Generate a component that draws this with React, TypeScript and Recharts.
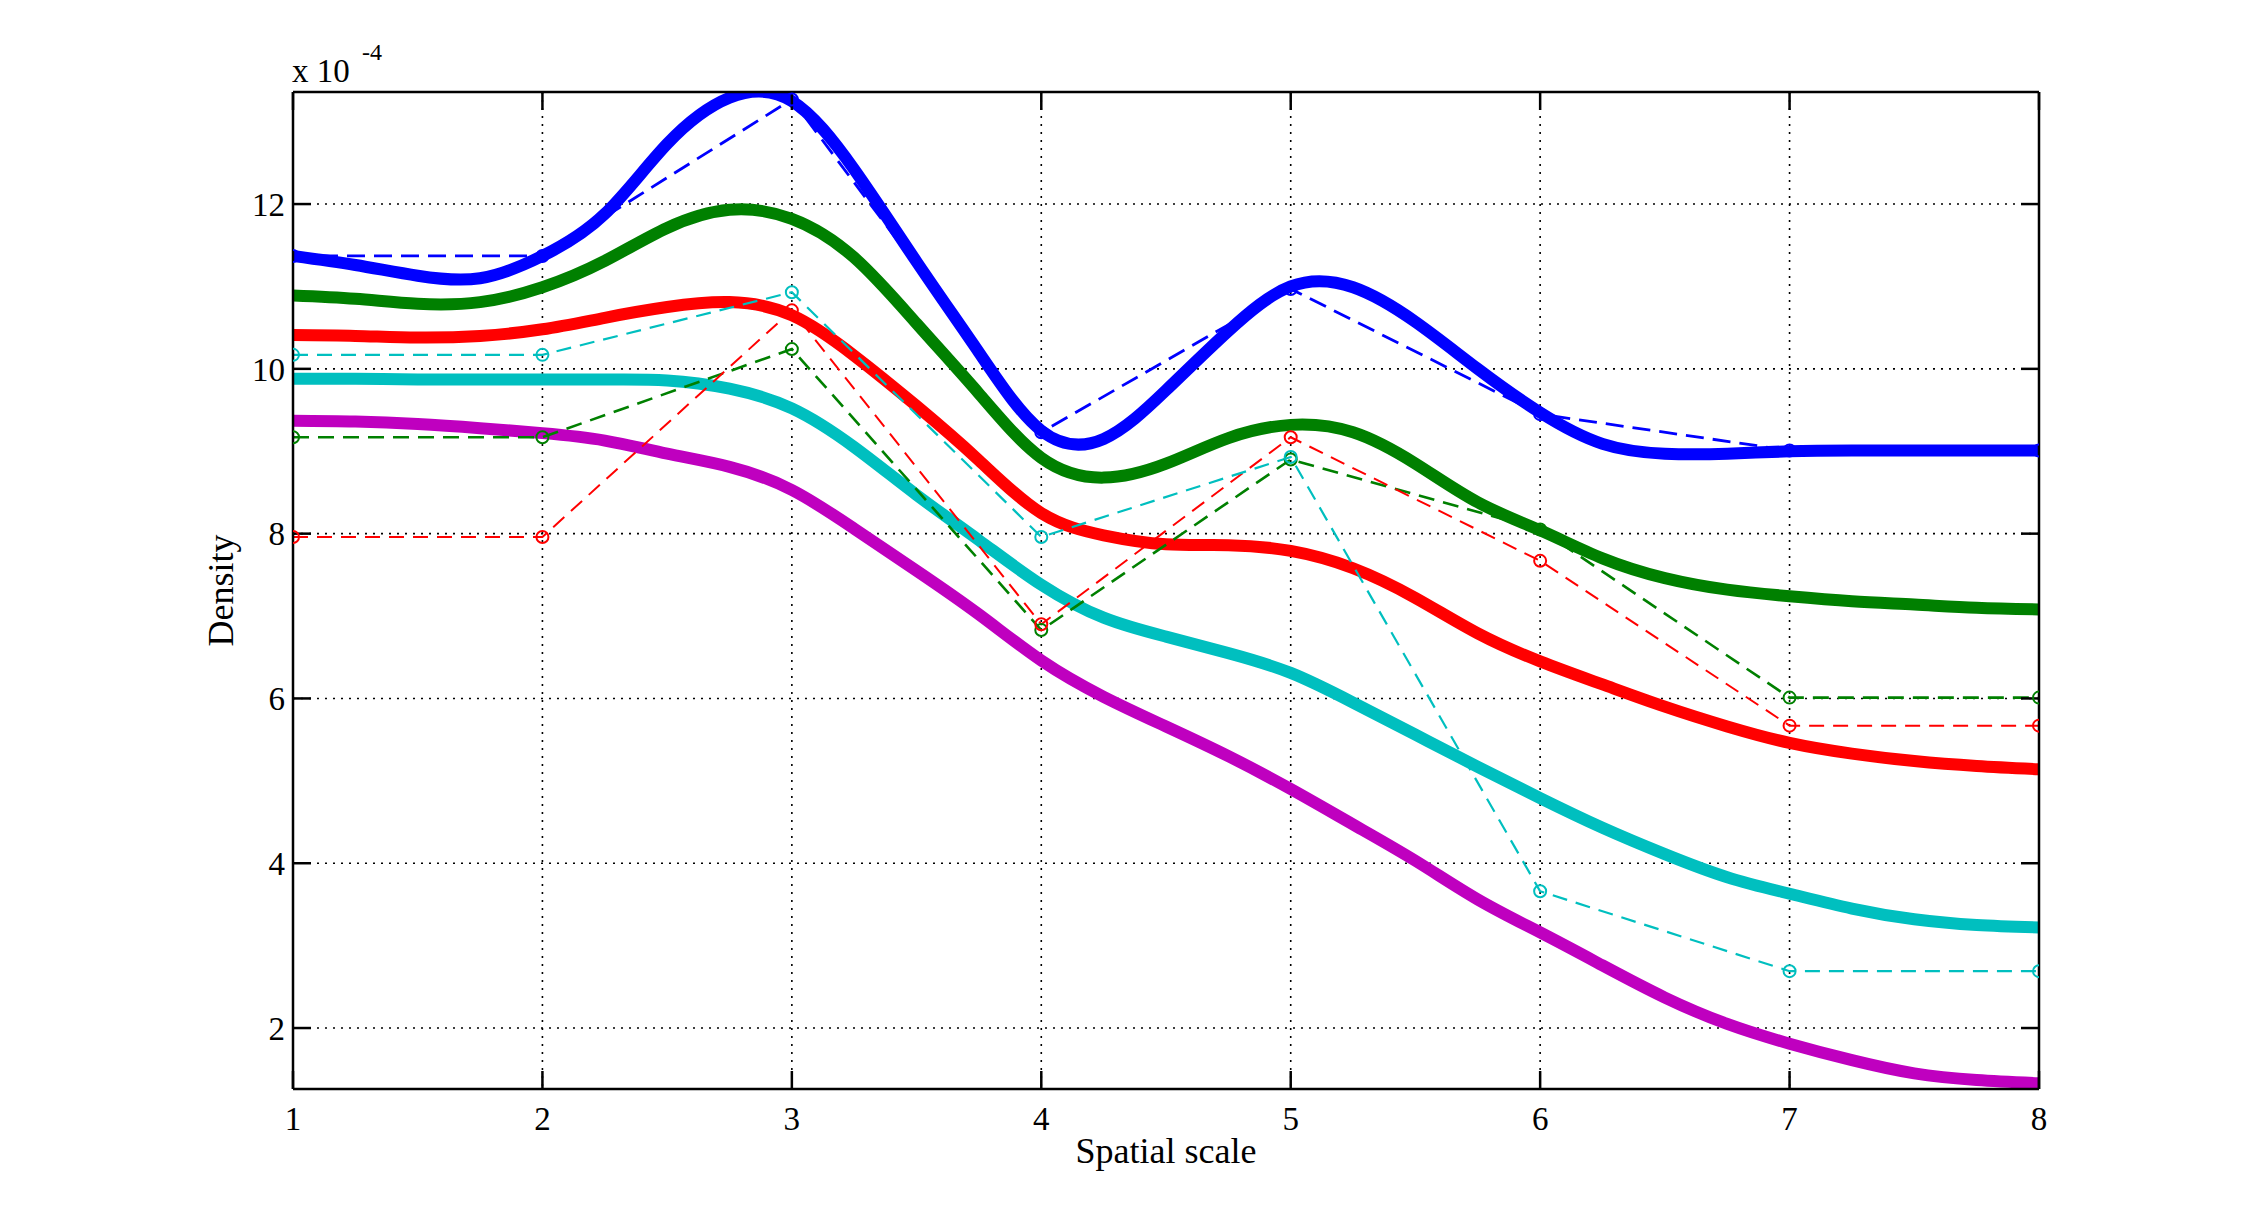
import { CartesianGrid, Label, Line, LineChart, XAxis, YAxis } from "recharts";

// density values are in units of 1e-4 (the "x 10^-4" note above the axis)
const fineScale = [
  1, 1.25, 1.5, 1.75, 2, 2.25, 2.5, 2.75, 3, 3.25, 3.5, 3.75, 4, 4.25, 4.5,
  4.75, 5, 5.25, 5.5, 5.75, 6, 6.25, 6.5, 6.75, 7, 7.25, 7.5, 7.75, 8,
];
const scales = [1, 2, 3, 4, 5, 6, 7, 8];

// thick smooth curves, sampled every quarter scale
const smoothBlue = [
  11.37, 11.26, 11.13, 11.1, 11.37, 11.88, 12.73, 13.29, 13.25, 12.42, 11.3,
  10.2, 9.25, 9.15, 9.74, 10.46, 11.0, 10.99, 10.57, 10.0, 9.47, 9.09, 8.97,
  8.97, 9.0, 9.01, 9.01, 9.01, 9.01,
];
const smoothGreen = [
  10.89, 10.85, 10.79, 10.81, 10.99, 11.31, 11.71, 11.93, 11.82, 11.35, 10.55,
  9.7, 8.92, 8.68, 8.85, 9.16, 9.32, 9.23, 8.85, 8.38, 8.04, 7.7, 7.46, 7.32,
  7.24, 7.18, 7.14, 7.1, 7.08,
];
const smoothRed = [
  10.41, 10.4, 10.38, 10.4, 10.48, 10.62, 10.75, 10.81, 10.65, 10.16, 9.55,
  8.89, 8.25, 7.98, 7.87, 7.86, 7.79, 7.58, 7.22, 6.79, 6.45, 6.17, 5.9, 5.66,
  5.46, 5.33, 5.24, 5.18, 5.14,
];
const smoothCyan = [
  9.88, 9.88, 9.87, 9.87, 9.87, 9.87, 9.86, 9.76, 9.52, 9.05, 8.47, 7.92, 7.38,
  6.98, 6.75, 6.55, 6.31, 5.95, 5.56, 5.17, 4.79, 4.43, 4.11, 3.83, 3.63, 3.45,
  3.32, 3.25, 3.22,
];
const smoothMagenta = [
  9.37, 9.36, 9.33, 9.28, 9.22, 9.13, 8.97, 8.81, 8.53, 8.06, 7.55, 7.02, 6.46,
  6.02, 5.66, 5.3, 4.9, 4.47, 4.03, 3.56, 3.16, 2.76, 2.37, 2.05, 1.81, 1.61,
  1.45, 1.37, 1.33,
];

// dashed lines with circles, one value per scale
const pointsBlue = [11.37, 11.37, 13.27, 9.23, 10.97, 9.45, 9.01, 9.01];
const pointsGreen = [9.17, 9.17, 10.24, 6.83, 8.9, 8.05, 6.01, 6.01];
const pointsRed = [7.96, 7.96, 10.71, 6.9, 9.17, 7.67, 5.67, 5.67];
const pointsCyan = [10.17, 10.17, 10.93, 7.96, 8.93, 3.66, 2.69, 2.69];

const xTicks = [1, 2, 3, 4, 5, 6, 7, 8];
const yTicks = [2, 4, 6, 8, 10, 12];

const chartData = fineScale.map((s, i) => {
  const k = scales.indexOf(s);
  return {
    scale: s,
    smoothBlue: smoothBlue[i],
    smoothGreen: smoothGreen[i],
    smoothRed: smoothRed[i],
    smoothCyan: smoothCyan[i],
    smoothMagenta: smoothMagenta[i],
    pointsBlue: k >= 0 ? pointsBlue[k] : null,
    pointsGreen: k >= 0 ? pointsGreen[k] : null,
    pointsRed: k >= 0 ? pointsRed[k] : null,
    pointsCyan: k >= 0 ? pointsCyan[k] : null,
  };
});

const smoothLines = [
  { key: "smoothBlue", color: "#0000ff" },
  { key: "smoothGreen", color: "#008000" },
  { key: "smoothRed", color: "#ff0000" },
  { key: "smoothCyan", color: "#00bfbf" },
  { key: "smoothMagenta", color: "#bf00bf" },
];

const dashedLines = [
  { key: "pointsBlue", color: "#0000ff", width: 2.8, dash: "18 9" },
  { key: "pointsGreen", color: "#008000", width: 2.6, dash: "16 9" },
  { key: "pointsRed", color: "#ff0000", width: 2, dash: "15 9" },
  { key: "pointsCyan", color: "#00bfbf", width: 2.2, dash: "15 9" },
];

const serif = "'Liberation Serif', 'Times New Roman', serif";
const tickText = { fill: "#000", fontSize: 33, fontFamily: serif };
const frame = { stroke: "#000", strokeWidth: 2.5 };

function App() {
  return (
    <div
      style={{
        position: "absolute",
        left: 0,
        top: 0,
        width: 2252,
        height: 1224,
        background: "#fff",
      }}
    >
      <LineChart
        width={2252}
        height={1224}
        data={chartData}
        margin={{ top: 90, right: 211, bottom: 55, left: 203 }}
      >
        <CartesianGrid stroke="#000" strokeWidth={1.6} strokeDasharray="2 6" />
        <XAxis
          dataKey="scale"
          type="number"
          domain={[1, 8]}
          ticks={xTicks}
          interval={0}
          allowDataOverflow
          height={80}
          tickSize={-18}
          tickMargin={36}
          axisLine={frame}
          tickLine={frame}
          tick={tickText}
        >
          <Label
            value="Spatial scale"
            position="insideBottom"
            offset={6}
            style={{ fill: "#000", fontSize: 36, fontFamily: serif }}
          />
        </XAxis>
        <XAxis
          xAxisId="top"
          orientation="top"
          dataKey="scale"
          type="number"
          domain={[1, 8]}
          ticks={xTicks}
          interval={0}
          allowDataOverflow
          height={2}
          tickSize={-18}
          axisLine={frame}
          tickLine={frame}
          tickFormatter={() => ""}
        />
        <YAxis
          type="number"
          domain={[1.26, 13.36]}
          ticks={yTicks}
          interval={0}
          allowDataOverflow
          width={90}
          tickSize={-18}
          tickMargin={26}
          axisLine={frame}
          tickLine={frame}
          tick={tickText}
        >
          <Label
            value="Density"
            position="insideLeft"
            angle={-90}
            offset={17}
            style={{
              fill: "#000",
              fontSize: 36,
              fontFamily: serif,
              textAnchor: "middle",
            }}
          />
        </YAxis>
        <YAxis
          yAxisId="right"
          orientation="right"
          type="number"
          domain={[1.26, 13.36]}
          ticks={yTicks}
          interval={0}
          allowDataOverflow
          width={2}
          tickSize={-18}
          axisLine={frame}
          tickLine={frame}
          tickFormatter={() => ""}
        />

        {smoothLines.map((s) => (
          <Line
            key={s.key}
            dataKey={s.key}
            type="natural"
            stroke={s.color}
            strokeWidth={12}
            dot={false}
            activeDot={false}
            isAnimationActive={false}
          />
        ))}

        {dashedLines.map((s, i) => (
          <Line
            key={s.key}
            dataKey={s.key}
            xAxisId={i === 0 ? "top" : 0}
            yAxisId={i === 0 ? "right" : 0}
            type="linear"
            connectNulls
            stroke={s.color}
            strokeWidth={s.width}
            strokeDasharray={s.dash}
            dot={{
              r: 6,
              fill: "none",
              stroke: s.color,
              strokeWidth: 2,
              strokeDasharray: "none",
            }}
            activeDot={false}
            isAnimationActive={false}
          />
        ))}
      </LineChart>

      <div
        style={{
          position: "absolute",
          left: 292,
          top: 55,
          fontFamily: serif,
          fontSize: 33,
          lineHeight: "33px",
          whiteSpace: "nowrap",
        }}
      >
        x 10
      </div>
      <div
        style={{
          position: "absolute",
          left: 362,
          top: 40,
          fontFamily: serif,
          fontSize: 24,
          lineHeight: "24px",
        }}
      >
        -4
      </div>
    </div>
  );
}

export default App;
